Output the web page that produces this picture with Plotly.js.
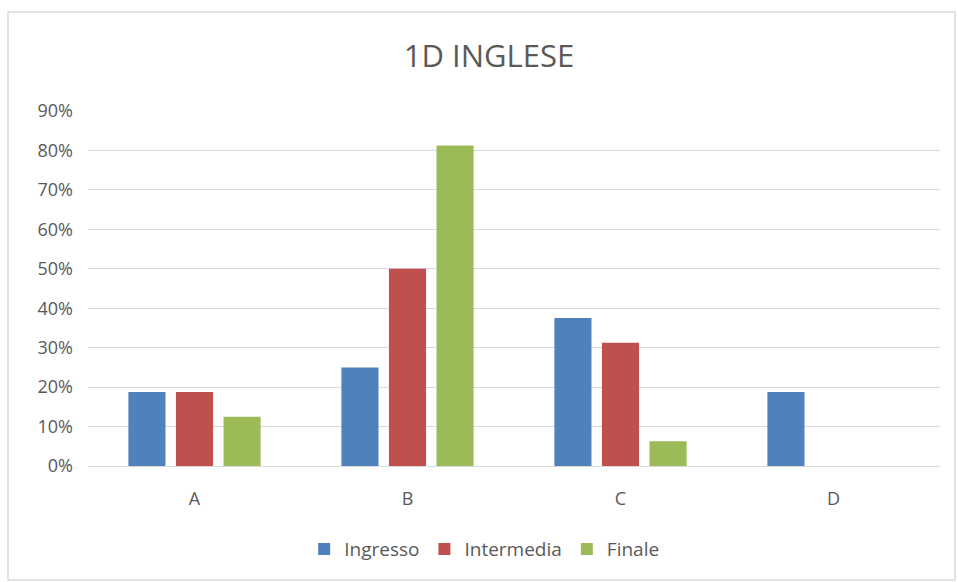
<!DOCTYPE html>
<html>
<head>
<meta charset="utf-8">
<script src="https://cdn.plot.ly/plotly-3.0.1.min.js"></script>
<style>
html,body{margin:0;padding:0;background:#fff;}
#chart{width:958px;height:582px;}
</style>
</head>
<body>
<div id="chart"></div>
<script>
var categories = ["A", "B", "C", "D"];
var ingresso = [0.1875, 0.25, 0.375, 0.1875];
var intermedia = [0.1875, 0.50, 0.3125, 0];
var finale = [0.125, 0.8125, 0.0625, 0];
var seriesNames = ["Ingresso", "Intermedia", "Finale"];
var seriesColors = ["#4F81BD", "#C0504D", "#9BBB59"];
var yTickVals = [0, 0.1, 0.2, 0.3, 0.4, 0.5, 0.6, 0.7, 0.8, 0.9];

var font = "'Open Sans', 'Liberation Sans', sans-serif";
var txt = "#595959";
var allSeries = [ingresso, intermedia, finale];
var data = allSeries.map(function (vals, i) {
  return {
    type: "bar",
    name: seriesNames[i],
    x: categories,
    y: vals,
    marker: {color: seriesColors[i]},
    hoverinfo: "x+y+name"
  };
});

var layout = {
  width: 958,
  height: 582,
  margin: {l: 88, r: 18, t: 111, b: 116},
  paper_bgcolor: "#ffffff",
  plot_bgcolor: "#ffffff",
  barmode: "group",
  bargap: 0.33,
  bargroupgap: 0.22,
  title: {
    text: "1D INGLESE",
    font: {family: font, size: 31, color: txt},
    x: 0.5104, xanchor: "center",
    y: 1 - 56 / 582, yanchor: "middle"
  },
  xaxis: {
    showgrid: false,
    showline: true,
    linecolor: "#D9D9D9",
    linewidth: 1,
    ticks: "",
    tickfont: {family: font, size: 18, color: txt},
    ticklabelstandoff: 16,
    zeroline: false,
    fixedrange: true
  },
  yaxis: {
    range: [0, 0.9],
    tickvals: yTickVals,
    tickformat: ".0%",
    showgrid: true,
    gridcolor: "#D9D9D9",
    gridwidth: 1,
    zeroline: false,
    showline: false,
    ticks: "",
    tickfont: {family: font, size: 18, color: txt},
    ticklabelstandoff: 14,
    fixedrange: true
  },
  showlegend: true,
  legend: {
    orientation: "h",
    x: 0.465, xanchor: "center",
    y: -0.234, yanchor: "middle",
    font: {family: font, size: 19, color: txt},
    itemwidth: 30,
    traceorder: "normal"
  },
  shapes: [{
    type: "rect", xref: "paper", yref: "paper",
    x0: (8 - 88) / 852, x1: (955 - 88) / 852,
    y0: (466 - 580) / 355, y1: (466 - 12) / 355,
    line: {color: "#D9D9D9", width: 1.5},
    fillcolor: "rgba(0,0,0,0)",
    layer: "below"
  }]
};

Plotly.newPlot("chart", data, layout, {displayModeBar: false, staticPlot: true});
</script>
</body>
</html>
